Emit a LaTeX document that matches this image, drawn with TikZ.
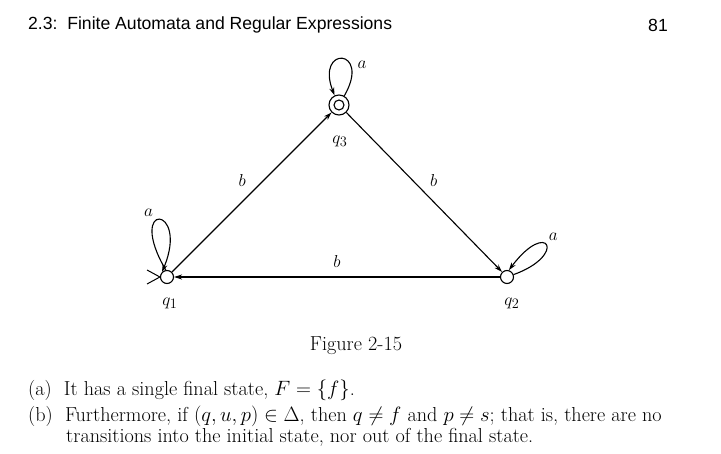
\documentclass[tikz,border=0pt]{standalone}
\usepackage{fontspec}
\newfontfamily\headfont{Liberation Sans}
\usetikzlibrary{arrows.meta}
\begin{document}
\begin{tikzpicture}[x=1pt,y=-1pt,
  st/.style={circle,draw,line width=1.1pt,minimum size=13pt,inner sep=0pt},
  edge/.style={-{Stealth[length=8pt,width=5pt]},line width=1.1pt},
  lab/.style={font=\fontsize{19}{19}\selectfont},
  txt/.style={anchor=west,font=\fontsize{20.2}{22}\selectfont,inner sep=0pt}]
\useasboundingbox (0,0) rectangle (721,454);
\node[anchor=west,font=\headfont\fontsize{17.6}{18}\selectfont,inner sep=0pt] (hd) at (28,25) {2.3:\ \ Finite Automata and Regular Expressions};
\node[anchor=east,font=\headfont\fontsize{17.6}{18}\selectfont,inner sep=0pt] (pg) at (668,25) {81};
\node[st] (q1) at (167,277) {};
\node[st] (q2) at (507,277) {};
\node[st,minimum size=20pt] (q3) at (339,105) {};
\node[circle,draw,line width=1.1pt,minimum size=10pt,inner sep=0pt] (q3i) at (q3) {};
\node[lab] (l1) at (170,303) {$q_1$};
\node[lab] (l2) at (512,303) {$q_2$};
\node[lab] (l3) at (340,141) {$q_3$};
\draw[edge] (q1) -- node[lab,above left=2pt] {$b$} (q3);
\draw[edge] (q3) -- node[lab,above right=2pt] {$b$} (q2);
\draw[edge] (q2) -- node[lab,above=6pt] {$b$} (q1);
\draw[edge] (q1.100) .. controls (125,200) and (190,205) .. node[lab,pos=0.45,above left=0pt] {$a$} (q1.135) ;
\draw[edge] (q3.60) .. controls (372,48) and (315,45) .. node[lab,pos=0.3,right=3pt] {$a$} (q3.115);
\draw[edge] (q2.20) .. controls (568,255) and (548,218) .. node[lab,pos=0.55,above right=0pt] {$a$} (q2.75);
\coordinate (i1) at (147,270);
\coordinate (i2) at (147,284);
\draw[line width=1pt] (i1) -- (q1.west) -- (i2);
\node[font=\fontsize{20.2}{22}\selectfont] (cap) at (356,346) {Figure 2-15};
\node[txt] (ta) at (28,390) {(a)\ \ It has a single final state, $F=\{f\}$.};
\node[txt] (tb) at (28,416) {(b)\ \ Furthermore, if $(q,u,p)\in\Delta$, then $q\neq f$ and $p\neq s$; that is, there are no};
\node[txt] (tc) at (66,437) {transitions into the initial state, nor out of the final state.};
\end{tikzpicture}
\end{document}
